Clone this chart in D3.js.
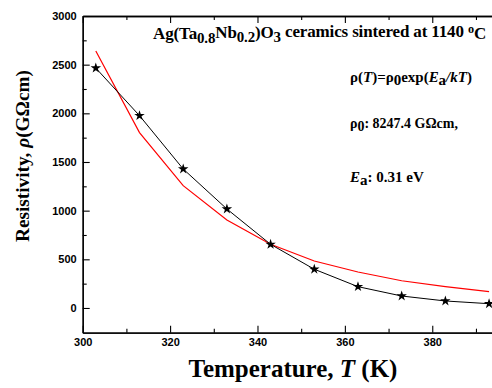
<!DOCTYPE html>
<html>
<head>
<meta charset="utf-8">
<script src="https://cdn.jsdelivr.net/npm/d3@7"></script>
<style>
  body { margin: 0; background: #fff; }
  .tick text { font-family: Arial, "Liberation Sans", sans-serif; font-weight: bold; font-size: 11px; }
  .serif { font-family: "Times New Roman", "Liberation Serif", serif; font-weight: bold; }
</style>
</head>
<body>
<svg id="chart" width="492" height="388"></svg>
<script>
// data
var temps = [303, 313, 323, 333, 343, 353, 363, 373, 383, 393];
var measured = [2465, 1976, 1428, 1017, 654, 398, 219, 123, 72, 44];
var fitted = [2641, 1802, 1257, 904, 655, 483, 370, 280, 219, 168];
var xTicks = [300, 320, 340, 360, 380];
var yTicks = [0, 500, 1000, 1500, 2000, 2500, 3000];

var svg = d3.select('#chart');
// plot frame (don't use "top" - clashes with window.top)
var pLeft = 82.7, pTop = 16, pBottom = 332.7, pRight = 493;

var x = d3.scaleLinear().domain([300, 393.9]).range([pLeft, pRight]);
var y = d3.scaleLinear().domain([-254, 3000]).range([pBottom, pTop]);

// minor ticks (inward)
var xMinor = d3.range(310, 395, 20);
var yMinor = d3.range(250, 3000, 500);
var ax = svg.append('g');

function axis(g, gen) {
  g.call(gen);
  g.select('.domain').attr('stroke-width', 1.3);
  g.selectAll('.tick line').attr('stroke-width', 1.1);
}

axis(ax.append('g').attr('transform', `translate(0,${pBottom})`),
  d3.axisBottom(x).tickValues(xTicks).tickSizeInner(-7).tickSizeOuter(0).tickPadding(6).tickFormat(d3.format('d')));
axis(ax.append('g').attr('transform', `translate(0,${pBottom})`),
  d3.axisBottom(x).tickValues(xMinor).tickSizeInner(-4).tickSizeOuter(0).tickFormat(''));
axis(ax.append('g').attr('transform', `translate(0,${pTop})`),
  d3.axisTop(x).tickValues(xTicks).tickSizeInner(-7).tickSizeOuter(0).tickFormat(''));
axis(ax.append('g').attr('transform', `translate(0,${pTop})`),
  d3.axisTop(x).tickValues(xMinor).tickSizeInner(-4).tickSizeOuter(0).tickFormat(''));
axis(ax.append('g').attr('transform', `translate(${pLeft},0)`),
  d3.axisLeft(y).tickValues(yTicks).tickSizeInner(-7).tickSizeOuter(0).tickPadding(6).tickFormat(d3.format('d')));
axis(ax.append('g').attr('transform', `translate(${pLeft},0)`),
  d3.axisLeft(y).tickValues(yMinor).tickSizeInner(-4).tickSizeOuter(0).tickFormat(''));

// fitted curve
var line = d3.line().x((d, i) => x(temps[i])).y(d => y(d));
svg.append('path').datum(fitted).attr('d', line)
  .attr('fill', 'none').attr('stroke', '#ff0000').attr('stroke-width', 1.2);

// measured
svg.append('path').datum(measured).attr('d', line)
  .attr('fill', 'none').attr('stroke', '#000').attr('stroke-width', 1);
svg.append('g').selectAll('path').data(measured).enter().append('path')
  .attr('d', d3.symbol(d3.symbolStar, 34))
  .attr('transform', (d, i) => `translate(${x(temps[i])},${y(d)})`)
  .attr('fill', '#000');

// width fitting helpers: the original pdf font runs a bit wider/narrower than Liberation
function fitSpacing(sel, target) {
  var w = sel.node().getComputedTextLength();
  var n = sel.text().length;
  sel.attr('letter-spacing', (target - w) / n);
}
function fitSize(sel, target) {
  var fs = +sel.attr('font-size');
  var w = sel.node().getComputedTextLength();
  sel.attr('font-size', fs * target / w);
}

// annotations
var t = svg.append('text').attr('class', 'serif').attr('x', 153).attr('y', 39).attr('font-size', 17);
t.append('tspan').text('Ag(Ta');
t.append('tspan').text('0.8').attr('dy', '0.25em').attr('font-size', '0.88em');
t.append('tspan').text('Nb').attr('dy', '-0.25em');
t.append('tspan').text('0.2').attr('dy', '0.25em').attr('font-size', '0.88em');
t.append('tspan').text(')O').attr('dy', '-0.25em');
t.append('tspan').text('3').attr('dy', '0.25em').attr('font-size', '0.88em');
t.append('tspan').text(' ceramics sintered at 1140 ').attr('dy', '-0.25em');
t.append('tspan').text('o').attr('dy', '-0.35em').attr('font-size', '0.72em');
t.append('tspan').text('C').attr('dy', '0.35em');
fitSpacing(t, 333);

var f = svg.append('text').attr('class', 'serif').attr('x', 350).attr('y', 82).attr('font-size', 14.5);
f.append('tspan').text('ρ(');
f.append('tspan').text('T').attr('font-style', 'italic');
f.append('tspan').text(')=ρ');
f.append('tspan').text('0').attr('dy', '0.2em');
f.append('tspan').text('exp(').attr('dy', '-0.2em');
f.append('tspan').text('E').attr('font-style', 'italic');
f.append('tspan').text('a').attr('dy', '0.2em');
f.append('tspan').text('/').attr('dy', '-0.2em').attr('font-style', 'italic');
f.append('tspan').text('kT').attr('font-style', 'italic');
f.append('tspan').text(')');
fitSize(f, 122);

var r = svg.append('text').attr('class', 'serif').attr('x', 350).attr('y', 128).attr('font-size', 14.5);
r.append('tspan').text('ρ');
r.append('tspan').text('0').attr('dy', '0.2em');
r.append('tspan').text(': 8247.4 GΩcm,').attr('dy', '-0.2em');
fitSize(r, 108);

var e = svg.append('text').attr('class', 'serif').attr('x', 350).attr('y', 182).attr('font-size', 14.5);
e.append('tspan').text('E').attr('font-style', 'italic');
e.append('tspan').text('a').attr('dy', '0.2em');
e.append('tspan').text(': 0.31 eV').attr('dy', '-0.2em');
fitSize(e, 74);

// axis titles
var yl = svg.append('text').attr('class', 'serif').attr('font-size', 16)
  .attr('text-anchor', 'middle').attr('transform', 'translate(29,156) rotate(-90)');
yl.append('tspan').text('Resistivity, ');
yl.append('tspan').text('ρ').attr('font-style', 'italic');
yl.append('tspan').text('(GΩcm)');
fitSize(yl, 172);

var xl = svg.append('text').attr('class', 'serif').attr('font-size', 25)
  .attr('text-anchor', 'middle').attr('x', 293).attr('y', 377);
xl.append('tspan').text('Temperature, ');
xl.append('tspan').text('T').attr('font-style', 'italic');
xl.append('tspan').text(' (K)');
fitSize(xl, 209);
</script>
</body>
</html>
